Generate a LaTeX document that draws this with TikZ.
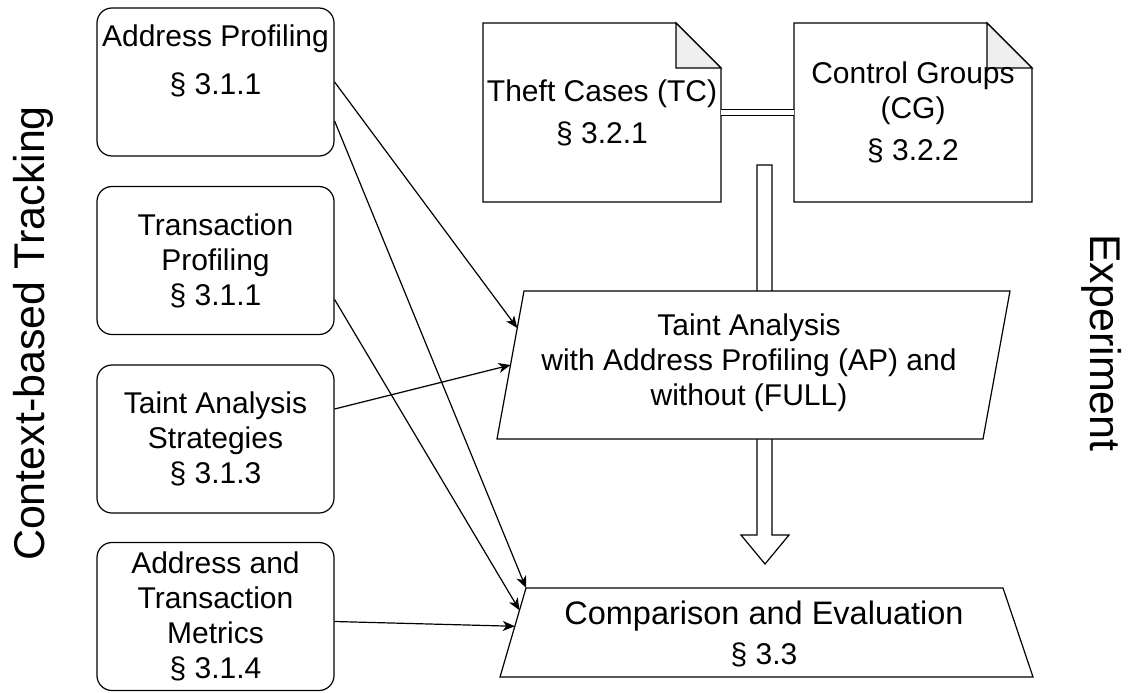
\documentclass[tikz,border=0pt]{standalone}
\usepackage{fontspec}
\setmainfont{Liberation Sans}
\usetikzlibrary{arrows.meta,calc}
\definecolor{foldgray}{HTML}{EFEFEF}

\begin{document}
\begin{tikzpicture}[x=1pt,y=-1pt,line width=1.2pt]
        \tikzstyle{every node}=[font=\fontsize{30}{35}\selectfont,align=center,inner sep=4pt]
        \tikzstyle{part}=[draw,rounded corners=15pt,minimum width=237pt,minimum height=148pt]
        \tikzstyle{sheet}=[minimum width=238pt,minimum height=179pt,outer sep=0pt]
        \tikzstyle{side}=[font=\fontsize{43}{52}\selectfont]
        \tikzstyle{feeds}=[-{Stealth[length=12pt,width=10pt,inset=3.5pt]}]
        \tikzstyle{link}=[double,double distance=4.5pt]
        \useasboundingbox (0,0) rectangle (1132,693);

        % context-based tracking
        \node[part] (ap) at (215.5,82) {Address Profiling\\[13pt]\S~3.1.1\\[9pt]~};
        \node[part] (tp) at (215.5,260.5) {Transaction\\Profiling\\\S~3.1.1};
        \node[part] (ts) at (215.5,439) {Taint Analysis\\Strategies\\\S~3.1.3};
        \node[part] (am) at (215.5,616.5) {Address and\\Transaction\\Metrics\\\S~3.1.4};

        % experiment
        \foreach \x in {483,794}{
          \draw (\x,23) -- (\x+193,23) -- (\x+238,68) -- (\x+238,202) -- (\x,202) -- cycle;
          \draw[fill=foldgray] (\x+193,23) -- (\x+193,68) -- (\x+238,68) -- cycle;
        }
        \node[sheet] (tc) at (602,112.5) {Theft Cases (TC)\\[7pt]\S~3.2.1};
        \node[sheet] (cg) at (913,112.5) {Control Groups\\(CG)\\[7pt]\S~3.2.2};
        \draw[link] (tc) -- (cg);

        % flow arrow behind the analysis
        \draw (757,165) -- (757,535) -- (741,535) -- (765,564) -- (789,535) -- (772,535) -- (772,165) -- cycle;

        % taint analysis
        \coordinate (tnw) at (524,291);
        \coordinate (tsw) at (497,439);
        \draw[fill=white] (tnw) -- (1010,291) -- (983,439) -- (tsw) -- cycle;
        \node (taint) at (749,363) {Taint Analysis\\with Address Profiling (AP) and\\without (FULL)};

        % comparison
        \coordinate (cnw) at (526,588);
        \coordinate (csw) at (500,677);
        \draw[fill=white] (cnw) -- (1003,588) -- (1033,677) -- (csw) -- cycle;
        \node (cmp) at (764,634) {{\fontsize{32.5}{35}\selectfont Comparison and Evaluation}\\[5pt]\S~3.3};

        % connectors
        \draw[feeds] (ap.east) -- ($(tnw)!0.25!(tsw)$);
        \draw[feeds] ([yshift=-39pt]ap.east) -- (cnw);
        \draw[feeds] ([yshift=-39pt]tp.east) -- ($(cnw)!0.25!(csw)$);
        \draw[feeds] ([yshift=30pt]ts.east) -- ($(tnw)!0.5!(tsw)$);
        \draw[feeds] ([yshift=-5pt]am.east) -- ($(cnw)!0.43!(csw)$);

        \node[side,rotate=90] (ctb) at (33.5,333.5) {Context-based Tracking};
        \node[side,rotate=-90] (exp) at (1101.5,343) {Experiment};
\end{tikzpicture}
\end{document}
